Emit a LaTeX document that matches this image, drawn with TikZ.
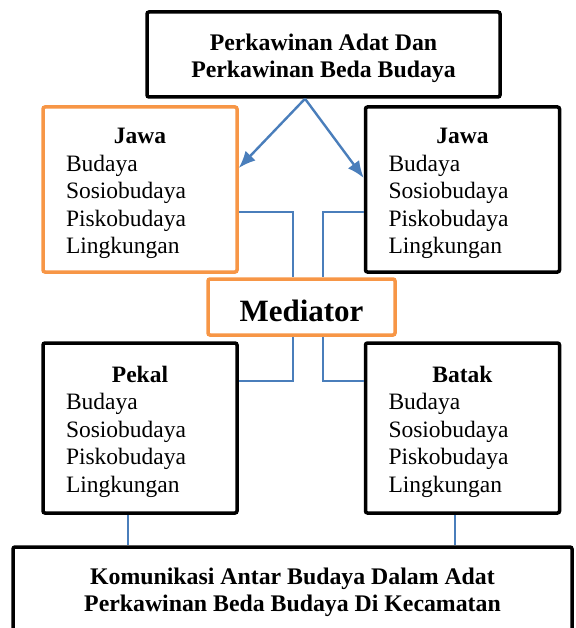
\documentclass[tikz,border=0pt]{standalone}
\usepackage{fontspec}
\setmainfont{Liberation Serif}
\usetikzlibrary{arrows.meta}
\definecolor{BoxOrange}{HTML}{F79646}
\definecolor{LinkBlue}{HTML}{4A7EBB}
\newcommand{\cultlist}[1]{\makebox[\linewidth]{\rule{0pt}{24pt}\textbf{#1}}\\Budaya\\Sosiobudaya\\Piskobudaya\\Lingkungan}

\begin{document}
\begin{tikzpicture}[x=1pt,y=-1pt,>=Latex,every node/.style={font=\fontsize{23.5}{27.5}\selectfont},
  box/.style={draw=black,line width=3.5pt,rounded corners=2pt,fill=white,inner sep=0pt},
  obox/.style={box,draw=BoxOrange},
  listbox/.style={text width=148pt,align=left,inner xsep=23pt,minimum width=194pt},
  headbox/.style={box,align=center,font=\fontsize{23.8}{27}\selectfont\bfseries},
  link/.style={LinkBlue,line width=1.2pt},
  push/.style={LinkBlue,line width=2.4pt,-{Latex[length=17pt,width=14pt]}}]
\useasboundingbox (0,0) rectangle (575,628); \clip (0,0) rectangle (575,628);
\node[headbox,minimum width=353pt,minimum height=85pt] (adat) at (323.5,54.5){\rule{0pt}{24pt}Perkawinan Adat Dan\\Perkawinan Beda Budaya};
\node[obox,listbox,minimum height=165pt] (jawaL) at (140,189.5){\cultlist{Jawa}}; \node[box,listbox,minimum height=165pt] (jawaR) at (462.5,189.5){\cultlist{Jawa}};
\node[obox,minimum width=187pt,minimum height=56pt,font=\fontsize{31}{36}\selectfont\bfseries] (med) at (301.5,307){\rule{0pt}{29pt}Mediator};
\node[box,listbox,minimum height=170pt] (pekal) at (140,428){\cultlist{Pekal}}; \node[box,listbox,minimum height=170pt] (batak) at (462.5,428){\cultlist{Batak}};
\node[headbox,minimum width=559pt,minimum height=86pt] (komunikasi) at (292.5,590){\rule{0pt}{22pt}Komunikasi Antar Budaya Dalam Adat\\Perkawinan Beda Budaya Di Kecamatan};
\coordinate (fork) at ([xshift=-18.5pt]adat.south);
\draw[push] (fork) -- ([yshift=21.5pt]jawaL.east); \draw[push] (fork) -- ([yshift=11.5pt]jawaR.west);
\draw[link] ([yshift=-22.5pt]jawaL.east) -| ([xshift=-8.5pt]med.north); \draw[link] ([yshift=-22.5pt]jawaR.west) -| ([xshift=21.5pt]med.north);
\draw[link] ([yshift=47pt]pekal.east) -| ([xshift=-8.5pt]med.south); \draw[link] ([yshift=47pt]batak.west) -| ([xshift=21.5pt]med.south);
\draw[link] ([xshift=-12pt]pekal.south) -- ([xshift=-12pt]pekal.south |- komunikasi.north); \draw[link] ([xshift=-7.5pt]batak.south) -- ([xshift=-7.5pt]batak.south |- komunikasi.north);
\end{tikzpicture}
\end{document}
